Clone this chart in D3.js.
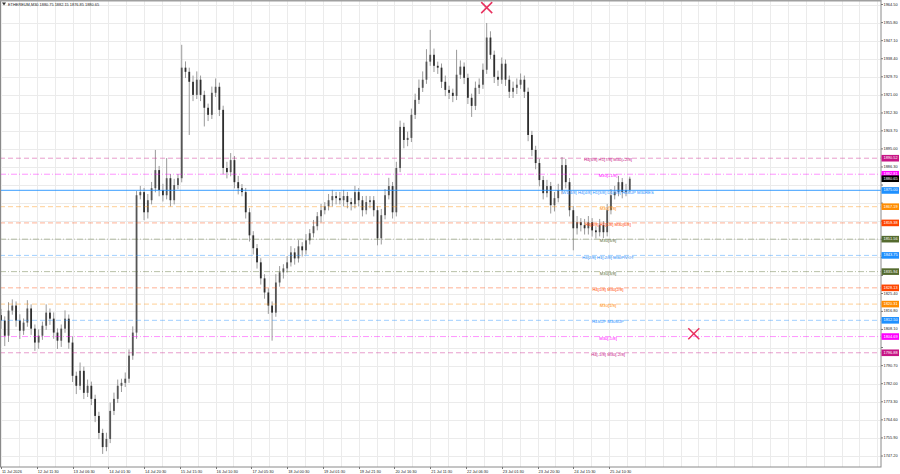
<!DOCTYPE html>
<html><head><meta charset="utf-8">
<script src="https://cdn.jsdelivr.net/npm/d3@7"></script>
<style>body{margin:0;background:#fff;overflow:hidden}svg{display:block;font-family:"Liberation Sans",Arial,sans-serif}</style>
</head><body><svg id="c" width="900" height="474"></svg>
<script>
// ---- data (2-hour candles) ----
const firstOpen = 1815.0;
const closes = [
1812.4,1805.1,1817.2,1819.6,1812.4,1807.5,1811.4,1818.2,1808.5,1801.8,
1805.1,1809.9,1816.2,1813.3,1806.6,1802.7,1808.5,1813.3,1801.8,1785.8,
1781.0,1788.2,1777.6,1781.0,1774.7,1766.5,1758.3,1751.5,1755.4,1768.9,
1774.7,1781.0,1782.4,1784.4,1795.5,1806.6,1872.7,1874.2,1864.5,1870.3,
1876.1,1884.8,1875.2,1872.7,1880.9,1870.3,1877.6,1880.9,1934.1,1932.1,
1927.3,1921.0,1928.3,1921.0,1914.8,1911.4,1922.0,1924.9,1913.8,1885.8,
1883.8,1889.6,1879.0,1876.1,1874.2,1864.5,1853.4,1847.2,1840.4,1832.7,
1825.9,1819.6,1816.2,1830.7,1835.6,1837.5,1840.4,1845.2,1842.3,1848.1,
1846.2,1851.0,1854.4,1857.8,1862.6,1865.5,1867.4,1870.3,1872.3,1871.3,
1870.3,1872.3,1869.4,1868.4,1874.2,1870.3,1865.5,1869.4,1870.3,1865.5,
1852.0,1863.1,1872.7,1877.1,1864.5,1885.8,1905.6,1899.3,1900.3,1911.4,
1918.6,1924.4,1928.3,1937.0,1940.3,1935.0,1934.1,1927.3,1923.4,1922.0,
1920.5,1930.7,1934.6,1929.2,1919.6,1915.7,1924.4,1925.9,1933.1,1948.6,
1940.3,1929.7,1928.3,1936.0,1928.3,1922.5,1924.4,1925.9,1928.3,1922.5,
1901.7,1894.5,1888.2,1880.0,1873.7,1877.1,1867.9,1871.3,1875.2,1887.2,
1879.0,1865.5,1856.8,1859.7,1858.3,1856.8,1859.7,1855.8,1854.9,1858.3,
1854.9,1865.5,1872.7,1874.2,1879.0,1874.2,1875.2,1880.65];
const wickUp = [
3,2,4,3,2,3,2,4,2,2, 3,2,4,2,3,2,2,4,2,3, 2,4,2,3,2,2,2,2,3,4,
3,3,2,3,3,3,2,3,2,3, 3,9.7,2,3,9.7,2,3,2,11,3, 2,3,4,2,2,2,3,4,2,2,
3,3.4,2,3,2,2,2,2,2,2, 2,2,2,4,3,2,3,3,2,3, 2,3,2,3,2,3,2,3,3,2,
3,3,2,2,3,2,2,3,2,2, 2,3,3,4,2,3,3,2,3,3, 3,4,4,6,12,3,2,2,3,2,
2,12,3,2,2,2,3,3,3,7, 3,2,3,3,2,2,3,3,3,2, 2,2,2,2,2,3,2,3,3,3.9,
3,2,2,3,2,3,3,2,2,3, 2,3,3,3,3,2,3,1];
const wickDn = [
4,5,3,2,3,4,2,2,3,4, 3,2,2,3,3,4,3,2,3,3, 4,2,3,2,3,3,3,3.3,2,2,
2,2,3,2,2,2,3,2,3.8,3, 2,2,3,3,2,3,2,2,2,3, 25.6,3,2,3,9,3,2,2,3,3,
3,2,3,3,2,3,3,3,3,3, 3,4,13.5,2,2,3,2,2,3,2, 3,2,2,2,2,3,2,2,3,3,
2,3,3,3,2,3,3,2,3,3, 3.4,3,2,2,3,2,2,4,3,2, 2,2,2,2,2,3,3,3,3,3,
3,2,2,3,3,5.3,2,3,2,2, 2,3,3,2,3,3,3,3,2,3, 3,3,3,3,3,2,4,3,2,2,
3,3,10.6,3,3,3,3,3,3,2, 2.9,2,2,2,2,3,2,1];
const timeLabels = ["11 Jul 2026","12 Jul 11:30","13 Jul 06:30","14 Jul 01:30","14 Jul 20:30","15 Jul 15:30",
"16 Jul 10:30","17 Jul 05:30","18 Jul 00:30","19 Jul 01:30","19 Jul 21:30","20 Jul 16:30","21 Jul 11:30",
"22 Jul 06:30","23 Jul 01:30","23 Jul 20:30","24 Jul 15:30","25 Jul 10:30"];
const priceTicks = [1964.50,1955.80,1947.10,1938.40,1929.70,1921.00,1912.30,1903.70,1895.00,1886.30,1877.60,
1868.90,1860.20,1851.50,1842.80,1834.10,1825.40,1816.80,1808.10,1799.40,1790.70,1782.00,1773.30,1764.60,1755.90,1747.20];
const levelPrices = [1890.52,1882.81,1875.00,1867.19,1859.38,1851.56,1843.75,1835.94,1828.13,1820.31,1812.50,1804.69,1796.88];
const levelLabels = ["H4[5/8] H1[7/8] M30[+2/8]","M30[+1/8]","W1[4/8] H4[4/8] H1[3/8] D1[7/8] H4SUP M30RES","M30[7/8]",
"H4[3/8] H1[1/8] M30[6/8]","M30[5/8]","H4[2/8] H1[-2/8] M30PIVOT","M30[3/8]","H4[1/8] M30[2/8]","M30[1/8]",
"H4SUP M30SUP","M30[-1/8]","H4[-1/8] M30[-2/8]"];
const levelColors = ["#C71585","#FF00FF","#1E90FF","#FF8C00","#FF4500","#556B2F","#1E90FF","#556B2F","#FF4500","#FF8C00","#1E90FF","#FF00FF","#C71585"];
const levelStyles = ["dash","dashdot","solid","dash","dash","dashdot","dash","dashdot","dash","dash","dash","dashdot","dash"];
const markerBars = [516, 736];
const markerPrices = [1963.0, 1806.0];
const lastPrice = 1880.65;
const titleText = "ETHEREUM,M30  1880.75 1882.15 1876.85 1880.65";

// ---- drawing ----
const barsPerCandle = 4;
const svg = d3.select("#c");
const plotR = 881, plotB = 467;
const x = d3.scaleLinear().domain([0, 935]).range([1, 881.1]);
const y = d3.scaleLinear().domain([1747.2, 1964.5]).range([456, 4.5]);

svg.append("defs").append("clipPath").attr("id","clip")
  .append("rect").attr("x",0).attr("y",1).attr("width",plotR).attr("height",plotB-1);

const grid = svg.append("g").attr("stroke","#ebebeb").attr("stroke-width",1);
for (let b = 0; x(b) < plotR; b += 19) {
  const gx = Math.round(x(b)) + 0.5;
  grid.append("line").attr("x1",gx).attr("x2",gx).attr("y1",1).attr("y2",plotB);
}
priceTicks.forEach(p => {
  const gy = Math.round(y(p)) + 0.5;
  grid.append("line").attr("x1",0).attr("x2",plotR).attr("y1",gy).attr("y2",gy);
});

const plot = svg.append("g").attr("clip-path","url(#clip)");

// candles
const candles = closes.map((c,i) => {
  const o = i ? closes[i-1] : firstOpen;
  return {i, o, c, h: Math.max(o,c) + wickUp[i], l: Math.min(o,c) - wickDn[i]};
});
const cg = plot.append("g");
cg.selectAll("line.w").data(candles).join("line")
  .attr("x1", d => x(d.i*barsPerCandle)).attr("x2", d => x(d.i*barsPerCandle))
  .attr("y1", d => y(d.h)).attr("y2", d => y(d.l))
  .attr("stroke","#9a9a9a").attr("stroke-width",1);
cg.selectAll("rect").data(candles).join("rect")
  .attr("x", d => x(d.i*barsPerCandle) - 0.9).attr("width", 1.8)
  .attr("y", d => y(Math.max(d.o,d.c)))
  .attr("height", d => Math.max(1, y(Math.min(d.o,d.c)) - y(Math.max(d.o,d.c))))
  .attr("fill", d => d.c >= d.o ? "#555" : "#2e2e2e");

// level lines
const dashes = {dash:"5,3", dashdot:"6,2,1,2", solid:null};
levelPrices.forEach((p,k) => {
  plot.append("line").attr("x1",0).attr("x2",plotR)
    .attr("y1", y(p)).attr("y2", y(p))
    .attr("stroke", levelColors[k])
    .attr("stroke-width", levelStyles[k]==="solid" ? 1.3 : 1)
    .attr("stroke-opacity", levelStyles[k]==="solid" ? 0.7 : 0.42)
    .attr("stroke-dasharray", dashes[levelStyles[k]]);
});
levelPrices.forEach((p,k) => {
  plot.append("text").attr("x", 608).attr("y", y(p) + 2)
    .attr("text-anchor","middle").attr("dominant-baseline","middle")
    .attr("font-size", 4.2).attr("fill", levelColors[k]).text(levelLabels[k]);
});

// X markers
markerBars.forEach((b,k) => {
  const cx = x(b), cy = y(markerPrices[k]), s = 5.5;
  const m = svg.append("g").attr("stroke","#E8305E").attr("stroke-width",1.5);
  m.append("line").attr("x1",cx-s).attr("y1",cy-s).attr("x2",cx+s).attr("y2",cy+s);
  m.append("line").attr("x1",cx-s).attr("y1",cy+s).attr("x2",cx+s).attr("y2",cy-s);
});

// frame
svg.append("rect").attr("x",0.5).attr("y",0.5).attr("width",plotR-0.5).attr("height",plotB-0.5)
  .attr("fill","none").attr("stroke","#8a8a8a").attr("stroke-width",1);
svg.append("line").attr("x1",0).attr("x2",plotR).attr("y1",0.5).attr("y2",0.5).attr("stroke","#a0a0a0").attr("stroke-width",2);

// title
svg.append("path").attr("d","M2,2.5 L6,2.5 L4,5.5 Z").attr("fill","#333");
svg.append("text").attr("x",8).attr("y",5.6).attr("font-size",3.9).attr("fill","#222").text(titleText);

// price axis
const pa = svg.append("g");
const boxPrices = levelPrices.concat([lastPrice]);
priceTicks.forEach(p => {
  const ty = y(p);
  pa.append("line").attr("x1",plotR).attr("x2",plotR+2).attr("y1",ty).attr("y2",ty).attr("stroke","#777");
  const hidden = boxPrices.some(bp => Math.abs(y(bp) - ty) < 5.6);
  if (!hidden)
    pa.append("text").attr("x",plotR+2.5).attr("y",ty).attr("dominant-baseline","middle")
      .attr("font-size",3.9).attr("fill","#222").text(p.toFixed(2));
});
function priceBox(p, col) {
  const ty = y(p);
  pa.append("rect").attr("x",plotR+0.5).attr("y",ty-3.3).attr("width",17.5).attr("height",6.6).attr("fill",col);
  pa.append("text").attr("x",plotR+2.5).attr("y",ty).attr("dominant-baseline","middle")
    .attr("font-size",3.9).attr("fill","#fff").text(p.toFixed(2));
}
levelPrices.forEach((p,k) => priceBox(p, levelColors[k]));
priceBox(lastPrice, "#000");

// time axis
const ta = svg.append("g");
timeLabels.forEach((t,k) => {
  const tx = x(k*38);
  ta.append("line").attr("x1",Math.round(tx)+0.5).attr("x2",Math.round(tx)+0.5).attr("y1",plotB).attr("y2",plotB+2).attr("stroke","#777");
  ta.append("text").attr("x",tx+1).attr("y",plotB+5.5).attr("font-size",3.9).attr("fill","#222").text(t);
});
</script></body></html>
